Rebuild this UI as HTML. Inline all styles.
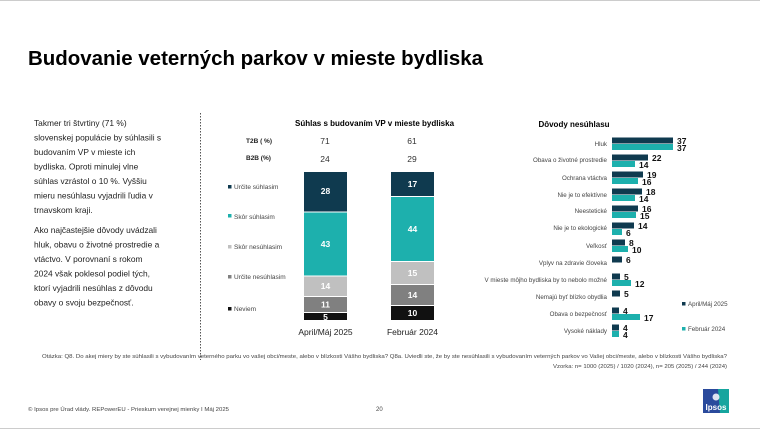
<!DOCTYPE html>
<html><head><meta charset="utf-8"><style>
html,body{margin:0;padding:0;background:#fff}
svg{display:block;font-family:"Liberation Sans",sans-serif}
</style></head><body>
<svg width="760" height="430" viewBox="0 0 760 430">
<line x1="0" y1="0.5" x2="760" y2="0.5" stroke="#ccc"/>
<line x1="0" y1="428.5" x2="760" y2="428.5" stroke="#ccc"/>
<text x="28" y="65" font-size="20" font-weight="bold" fill="#000" textLength="455" lengthAdjust="spacingAndGlyphs">Budovanie veterných parkov v mieste bydliska</text>
<g font-size="8.4" fill="#222">
<text x="34" y="126">Takmer tri štvrtiny (71 %)</text>
<text x="34" y="140.5">slovenskej populácie by súhlasili s</text>
<text x="34" y="155">budovaním VP v mieste ich</text>
<text x="34" y="169.5">bydliska. Oproti minulej vlne</text>
<text x="34" y="184">súhlas vzrástol o 10 %. Vyššiu</text>
<text x="34" y="198.5">mieru nesúhlasu vyjadrili ľudia v</text>
<text x="34" y="213">trnavskom kraji.</text>
<text x="34" y="233">Ako najčastejšie dôvody uvádzali</text>
<text x="34" y="247.5">hluk, obavu o životné prostredie a</text>
<text x="34" y="262">vtáctvo. V porovnaní s rokom</text>
<text x="34" y="276.5">2024 však poklesol podiel tých,</text>
<text x="34" y="291">ktorí vyjadrili nesúhlas z dôvodu</text>
<text x="34" y="305.5">obavy o svoju bezpečnosť.</text>
</g>
<line x1="200.5" y1="113" x2="200.5" y2="360" stroke="#555" stroke-dasharray="1.5,1.5"/>
<text x="295" y="126" font-size="8" font-weight="bold">Súhlas s budovaním VP v mieste bydliska</text>
<g font-size="6.5" font-weight="bold" fill="#222"><text x="246" y="143">T2B ( %)</text><text x="246" y="160">B2B (%)</text></g>
<g font-size="8.5" fill="#333" text-anchor="middle"><text x="325" y="144">71</text><text x="412" y="144">61</text><text x="325" y="162">24</text><text x="412" y="162">29</text></g>
<g font-size="6.5" fill="#444">
<rect x="228" y="185" width="3.5" height="3.5" fill="#0f3a4f"/><text x="234" y="189">Určite súhlasim</text>
<rect x="228" y="214" width="3.5" height="3.5" fill="#1db0ad"/><text x="234" y="219">Skôr súhlasim</text>
<rect x="228" y="245" width="3.5" height="3.5" fill="#c0c0c0"/><text x="234" y="249">Skôr nesúhlasim</text>
<rect x="228" y="275" width="3.5" height="3.5" fill="#808080"/><text x="234" y="279">Určite nesúhlasim</text>
<rect x="228" y="307" width="3.5" height="3.5" fill="#111"/><text x="234" y="311">Neviem</text>
</g>
<g>
<rect x="304" y="172" width="43" height="39.5" fill="#0f3a4f"/>
<rect x="304" y="212.5" width="43" height="63" fill="#1db0ad"/>
<rect x="304" y="276.5" width="43" height="19.5" fill="#c0c0c0"/>
<rect x="304" y="297" width="43" height="15" fill="#808080"/>
<rect x="304" y="313" width="43" height="7" fill="#111"/>
<rect x="391" y="172" width="43" height="24" fill="#0f3a4f"/>
<rect x="391" y="197" width="43" height="64" fill="#1db0ad"/>
<rect x="391" y="262" width="43" height="22" fill="#c0c0c0"/>
<rect x="391" y="285" width="43" height="20" fill="#808080"/>
<rect x="391" y="306" width="43" height="14" fill="#111"/>
</g>
<g font-size="8.5" font-weight="bold" fill="#fff" text-anchor="middle">
<text x="325.5" y="194">28</text><text x="325.5" y="247">43</text><text x="325.5" y="289">14</text><text x="325.5" y="307.5">11</text><text x="325.5" y="320">5</text>
<text x="412.5" y="187">17</text><text x="412.5" y="232">44</text><text x="412.5" y="276">15</text><text x="412.5" y="298">14</text><text x="412.5" y="316">10</text>
</g>
<g font-size="8.5" fill="#222" text-anchor="middle"><text x="325.5" y="335">April/Máj 2025</text><text x="412.5" y="335">Február 2024</text></g>
<text x="574" y="127" font-size="8" font-weight="bold" text-anchor="middle">Dôvody nesúhlasu</text>
<g font-size="6.2" fill="#444" text-anchor="end">
<text x="607" y="146">Hluk</text>
<text x="607" y="162">Obava o životné prostredie</text>
<text x="607" y="180">Ochrana vtáctva</text>
<text x="607" y="197">Nie je to efektívne</text>
<text x="607" y="213">Neestetické</text>
<text x="607" y="230">Nie je to ekologické</text>
<text x="607" y="248">Veľkosť</text>
<text x="607" y="265">Vplyv na zdravie človeka</text>
<text x="607" y="282">V mieste môjho bydliska by to nebolo možné</text>
<text x="607" y="299">Nemajú byť blízko obydlia</text>
<text x="607" y="316">Obava o bezpečnosť</text>
<text x="607" y="333">Vysoké náklady</text>
</g>
<g fill="#0f3a4f">
<rect x="612" y="137.5" width="61" height="6"/>
<rect x="612" y="154.5" width="36" height="6"/>
<rect x="612" y="171.5" width="31" height="6"/>
<rect x="612" y="188.5" width="30" height="6"/>
<rect x="612" y="205.5" width="26" height="6"/>
<rect x="612" y="222.5" width="22" height="6"/>
<rect x="612" y="239.5" width="13" height="6"/>
<rect x="612" y="256.5" width="10" height="6"/>
<rect x="612" y="273.5" width="8" height="6"/>
<rect x="612" y="290.5" width="8" height="6"/>
<rect x="612" y="307.5" width="7" height="6"/>
<rect x="612" y="324.5" width="7" height="6"/>
</g>
<g fill="#1db0ad">
<rect x="612" y="144" width="61" height="6"/>
<rect x="612" y="161" width="23" height="6"/>
<rect x="612" y="178" width="26" height="6"/>
<rect x="612" y="195" width="23" height="6"/>
<rect x="612" y="212" width="24" height="6"/>
<rect x="612" y="229" width="10" height="6"/>
<rect x="612" y="246" width="16" height="6"/>
<rect x="612" y="280" width="19" height="6"/>
<rect x="612" y="314" width="28" height="6"/>
<rect x="612" y="331" width="7" height="6"/>
</g>
<g font-size="8.5" font-weight="bold" fill="#111">
<text x="677" y="144">37</text><text x="677" y="151">37</text>
<text x="652" y="161">22</text><text x="639" y="168">14</text>
<text x="647" y="178">19</text><text x="642" y="185">16</text>
<text x="646" y="195">18</text><text x="639" y="202">14</text>
<text x="642" y="212">16</text><text x="640" y="219">15</text>
<text x="638" y="229">14</text><text x="626" y="236">6</text>
<text x="629" y="246">8</text><text x="632" y="253">10</text>
<text x="626" y="263">6</text>
<text x="624" y="280">5</text><text x="635" y="287">12</text>
<text x="624" y="297">5</text>
<text x="623" y="314">4</text><text x="644" y="321">17</text>
<text x="623" y="331">4</text><text x="623" y="338">4</text>
</g>
<g font-size="6.2" fill="#444">
<rect x="682" y="302" width="3.5" height="3.5" fill="#0f3a4f"/><text x="688" y="306">April/Máj 2025</text>
<rect x="682" y="327" width="3.5" height="3.5" fill="#1db0ad"/><text x="688" y="331">Február 2024</text>
</g>
<g font-size="5" fill="#444">
<text x="42" y="358" textLength="685" lengthAdjust="spacingAndGlyphs">Otázka: Q8. Do akej miery by ste súhlasili s vybudovaním veterného parku vo vašej obci/meste, alebo v blízkosti Vášho bydliska? Q8a. Uviedli ste, že by ste nesúhlasili s vybudovaním veterných parkov vo Vašej obci/meste, alebo v blízkosti Vášho bydliska?</text>
<text x="553" y="368" textLength="174" lengthAdjust="spacingAndGlyphs">Vzorka: n= 1000 (2025) / 1020 (2024), n= 205 (2025) / 244 (2024)</text>
<text x="28" y="411" textLength="201" lengthAdjust="spacingAndGlyphs">© Ipsos pre Úrad vlády. REPowerEU - Prieskum verejnej mienky I Máj 2025</text>
</g>
<text x="376" y="411" font-size="6" fill="#444">20</text>
<rect x="703" y="389" width="26" height="24" fill="#2a4a9c"/>
<path d="M718 389 H729 V413 H720 Z" fill="#16a59e"/>
<circle cx="716" cy="397" r="3.5" fill="#fff" opacity="0.85"/>
<text x="716" y="410" font-size="8" font-weight="bold" fill="#fff" text-anchor="middle">Ipsos</text>
</svg>
</body></html>
